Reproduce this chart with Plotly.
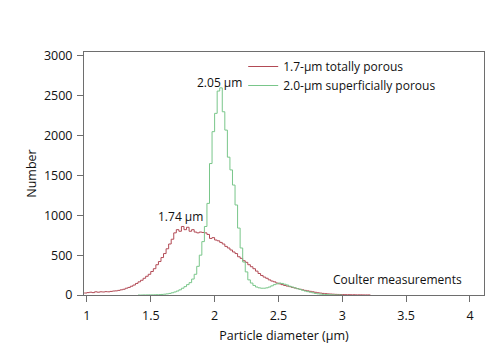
import numpy as np
import plotly.graph_objects as go

# Particle diameter histogram (bin width 0.02 um)
bin_width = 0.02
red_start = 0.96
red_counts = [25, 25, 30, 35, 30, 40, 35, 40, 38, 42, 40, 45, 50, 52, 58, 65, 72, 85,
              95, 110, 125, 145, 165, 185, 210, 235, 260, 295, 330, 380, 420, 470, 520,
              580, 640, 700, 780, 820, 800, 860, 820, 850, 800, 820, 790, 780, 790, 785,
              780, 760, 710, 720, 690, 680, 660, 640, 610, 590, 565, 540, 520, 480, 460,
              430, 410, 380, 355, 330, 300, 270, 245, 225, 210, 190, 175, 165, 150, 140,
              130, 120, 112, 105, 95, 88, 80, 72, 65, 58, 52, 46, 40, 34, 28, 24, 20, 17,
              14, 12, 10, 8, 7, 6, 5, 4, 4, 3, 3, 2, 2, 2, 1, 1, 1]
green_start = 1.40
green_counts = [0, 0, 1, 1, 2, 2, 3, 4, 5, 7, 10, 14, 20, 28, 38, 50, 65, 85, 105, 130,
                155, 200, 260, 360, 500, 670, 860, 1150, 1650, 2050, 2280, 2560, 2600,
                2300, 2070, 1730, 1570, 1380, 1130, 840, 590, 414, 290, 190, 150, 120,
                100, 90, 85, 85, 90, 100, 115, 130, 140, 150, 145, 135, 125, 110, 100, 90,
                80, 70, 60, 50, 42, 35, 28, 20, 15, 11, 8, 6, 4, 3, 2, 1, 1, 0]

red_name = "1.7-µm totally porous"
green_name = "2.0-µm superficially porous"
x_ticks = [1, 1.5, 2, 2.5, 3, 3.5, 4]
y_ticks = [0, 500, 1000, 1500, 2000, 2500, 3000]


def step_xy(start, counts):
    edges = [round(start + i * bin_width, 4) for i in range(len(counts) + 1)]
    return edges, list(counts) + [counts[-1]]


rx, ry = step_xy(red_start, red_counts)
gx, gy = step_xy(green_start, green_counts)

FONT = "Open Sans"
AX = "#6e6e6e"
TXT = "#111111"

fig = go.Figure()
fig.add_trace(go.Scatter(x=rx, y=ry, mode="lines", line=dict(shape="hv", color="#b24a55", width=1),
                         name=red_name))
fig.add_trace(go.Scatter(x=gx, y=gy, mode="lines", line=dict(shape="hv", color="#79c68a", width=1),
                         name=green_name))

fig.add_annotation(x=2.04, y=2672, text="2.05 µm", showarrow=False, font=dict(size=12, color=TXT))
fig.add_annotation(x=1.73, y=980, text="1.74 µm", showarrow=False, font=dict(size=12, color=TXT))
fig.add_annotation(x=3.43, y=200, text="Coulter measurements", showarrow=False,
                   font=dict(size=12, color=TXT))

fig.update_layout(
    width=500, height=353,
    margin=dict(l=84, r=16, t=52, b=58),
    paper_bgcolor="white", plot_bgcolor="white",
    font=dict(family=FONT, size=12.5, color=TXT),
    showlegend=True,
    legend=dict(x=0.398, y=1.0, xanchor="left", yanchor="top", bgcolor="rgba(0,0,0,0)",
                font=dict(size=12, color=TXT), tracegroupgap=0, itemwidth=30),
    xaxis=dict(range=[0.977, 4.11], tickvals=x_ticks, ticktext=[str(v) for v in x_ticks],
               showgrid=False, zeroline=False, showline=True, linecolor=AX, linewidth=1,
               mirror=True, ticks="outside", ticklen=6, tickcolor=AX, ticklabelstandoff=3,
               title=dict(text="Particle diameter (µm)", standoff=8, font=dict(size=12.5))),
    yaxis=dict(range=[0, 3050], tickvals=y_ticks, showgrid=False, zeroline=False,
               showline=True, linecolor=AX, linewidth=1, mirror=True, ticks="outside",
               ticklen=6, tickcolor=AX, ticklabelstandoff=2,
               title=dict(text="Number", standoff=4, font=dict(size=12.5))),
)

fig.write_html("out.html")
